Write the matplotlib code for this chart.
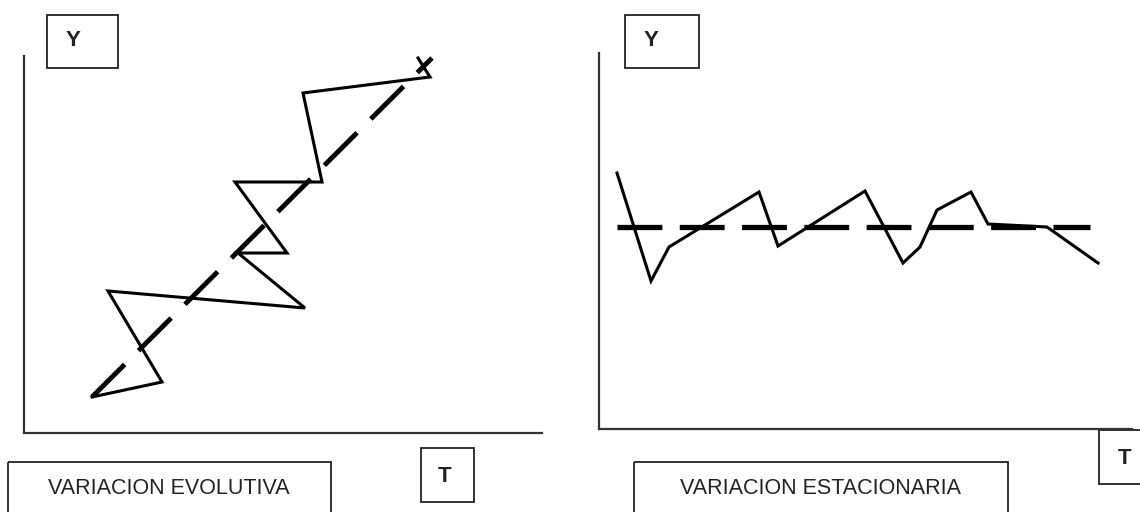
import matplotlib.pyplot as plt
from matplotlib.patches import Rectangle

plt.rcParams["font.family"] = ["Liberation Sans", "DejaVu Sans"]

# --- data (T, Y) ---
# left panel: evolutive variation
evo_t = [68, 138, 84, 281, 214, 263, 211, 298, 279, 406, 394]
evo_y = [36, 51, 142, 125, 180, 180, 251, 251, 340, 356, 375]
evo_trend_t = [68, 408]
evo_trend_y = [36, 375]

# right panel: stationary variation
est_t = [18, 52, 70, 160, 179, 266, 304, 321, 338, 372, 389, 448, 499]
est_y = [256, 148, 182, 237, 183, 238, 166, 182, 219, 237, 205, 202, 166]
est_trend_t = [18, 491]
est_trend_y = [202, 202]

titles = ["VARIACION EVOLUTIVA", "VARIACION ESTACIONARIA"]

W, H = 1140, 512
fig = plt.figure(figsize=(W / 100, H / 100), dpi=100)


def panel(x0, y0, x1, y1):
    # axes placed by pixel box (top-left origin)
    ax = fig.add_axes([x0 / W, 1 - y1 / H, (x1 - x0) / W, (y1 - y0) / H])
    ax.set_xlim(0, x1 - x0)
    ax.set_ylim(0, y1 - y0)
    for s in ["top", "right"]:
        ax.spines[s].set_visible(False)
    for s in ["left", "bottom"]:
        ax.spines[s].set_color("#333333")
        ax.spines[s].set_linewidth(1.6)
    ax.set_xticks([])
    ax.set_yticks([])
    ax.patch.set_alpha(0)
    return ax


ax1 = panel(24, 56, 542, 433)
ax1.plot(evo_t, evo_y, color="black", lw=2.2, solid_joinstyle="miter", clip_on=False)
ax1.plot(evo_trend_t, evo_trend_y, color="black", lw=3.5, dashes=(9.5, 4), clip_on=False)

ax2 = panel(599, 53, 1132, 429)
ax2.plot(est_t, est_y, color="black", lw=2.2, solid_joinstyle="miter", clip_on=False)
ax2.plot(est_trend_t, est_trend_y, color="black", lw=3.8, dashes=(8.5, 3.3), clip_on=False)

# overlay for the label boxes
ov = fig.add_axes([0, 0, 1, 1], zorder=-1)
ov.set_xlim(0, W)
ov.set_ylim(H, 0)
ov.axis("off")

boxes = [
    # (x0, y0, x1, y1, text, tx, ty, size, weight)
    (47, 15, 118, 68, "Y", 73, 41, 16, "bold"),
    (421, 448, 474, 502, "T", 445, 476, 16, "bold"),
    (8, 462, 331, 530, titles[0], 169, 488, 15.5, "normal"),
    (625, 15, 699, 68, "Y", 651, 41, 16, "bold"),
    (1099, 430, 1150, 484, "T", 1125, 458, 16, "bold"),
    (634, 462, 1008, 530, titles[1], 821, 488, 15.5, "normal"),
]
for x0, y0, x1, y1, txt, tx, ty, size, weight in boxes:
    ov.add_patch(Rectangle((x0, y0), x1 - x0, y1 - y0, fill=False,
                           edgecolor="#222222", lw=1.3))
    ov.text(tx, ty, txt, ha="center", va="center", fontsize=size,
            fontweight=weight, color="#222222")

fig.savefig("out.png", dpi=100, facecolor="white")
